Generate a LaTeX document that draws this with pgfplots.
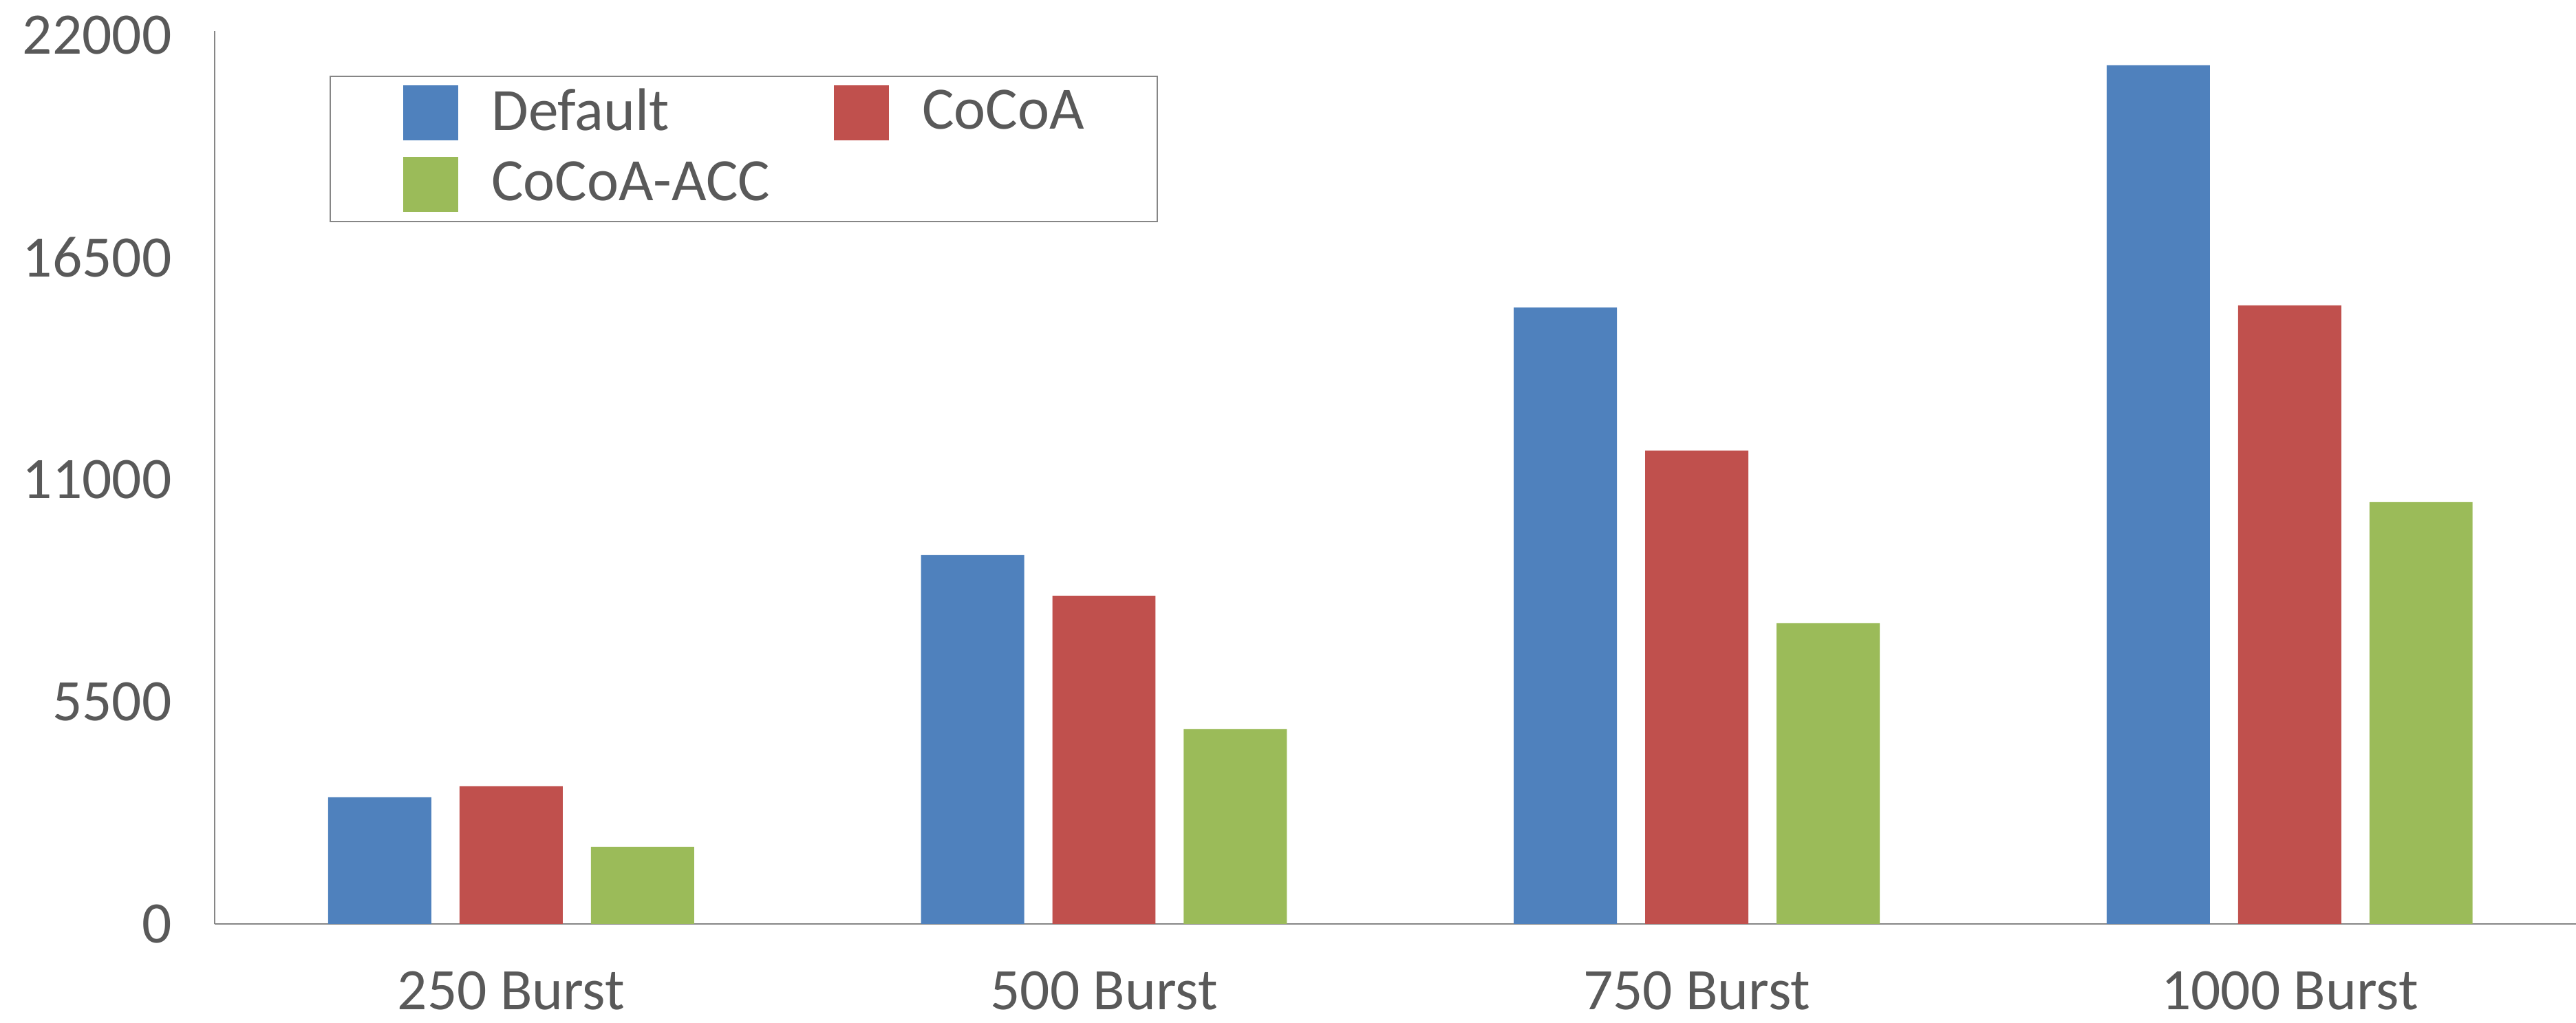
\documentclass[border=0pt]{standalone}
\usepackage{pgfplots}
\pgfplotsset{compat=1.18}
\usepackage{fontspec}
\setmainfont{Carlito}
\definecolor{cdef}{HTML}{4F81BD}
\definecolor{ccocoa}{HTML}{C0504D}
\definecolor{cacc}{HTML}{9BBB59}
\definecolor{axgray}{HTML}{868686}
\definecolor{txtgray}{HTML}{595959}

\begin{document}
\begin{tikzpicture}
\begin{axis}[
  at={(0,0)}, anchor=south west,
  width=550pt, height=208pt, scale only axis,
  xmin=-0.5, xmax=3.483,
  ymin=0, ymax=22100,
  scaled y ticks=false,
  axis x line*=bottom, axis y line*=left,
  axis line style={-, draw=axgray, line width=0.4pt},
  major tick length=0pt, tick style={draw=none},
  xtick={0,1,2,3},
  xticklabels={250 Burst,500 Burst,750 Burst,1000 Burst},
  ytick={0,5500,11000,16500,22000},
  yticklabels={0,5500,11000,16500,22000},
  ticklabel style={font=\fontsize{13.7}{16}\selectfont, text=txtgray},
  yticklabel style={xshift=-6.5pt},
  xticklabel style={yshift=-7.6pt},
  ybar, bar width=24.03pt,
  legend columns=2,
  legend cell align=left,
  legend image code/.code={\fill[#1] (0pt,-6.41pt) rectangle (12.82pt,6.41pt);},
  legend style={at={(0.0487,0.9503)}, anchor=north west,
    draw=axgray, line width=0.32pt,
    inner xsep=17pt, inner ysep=2.2pt, row sep=3.85pt,
    font=\fontsize{14}{17}\selectfont, text=txtgray,
    nodes={inner xsep=0pt, inner ysep=0pt, anchor=west},
    /tikz/every odd column/.append style={column sep=7.7pt},
    /tikz/every even column/.append style={column sep=14.9pt}},
]
\addplot[fill=cdef, draw=none, bar shift=-30.6pt]
  coordinates {(0,3133) (1,9127) (2,15256) (3,21250)};
\addplot[fill=ccocoa, draw=none, bar shift=0pt]
  coordinates {(0,3405) (1,8122) (2,11715) (3,15307)};
\addplot[fill=cacc, draw=none, bar shift=30.6pt]
  coordinates {(0,1907) (1,4819) (2,7441) (3,10438)};
\legend{Default,CoCoA,CoCoA-ACC}
\end{axis}
\pgfresetboundingbox
\path[use as bounding box] (-50pt,-23.08pt) rectangle (550pt,215.22pt);
\end{tikzpicture}
\end{document}
